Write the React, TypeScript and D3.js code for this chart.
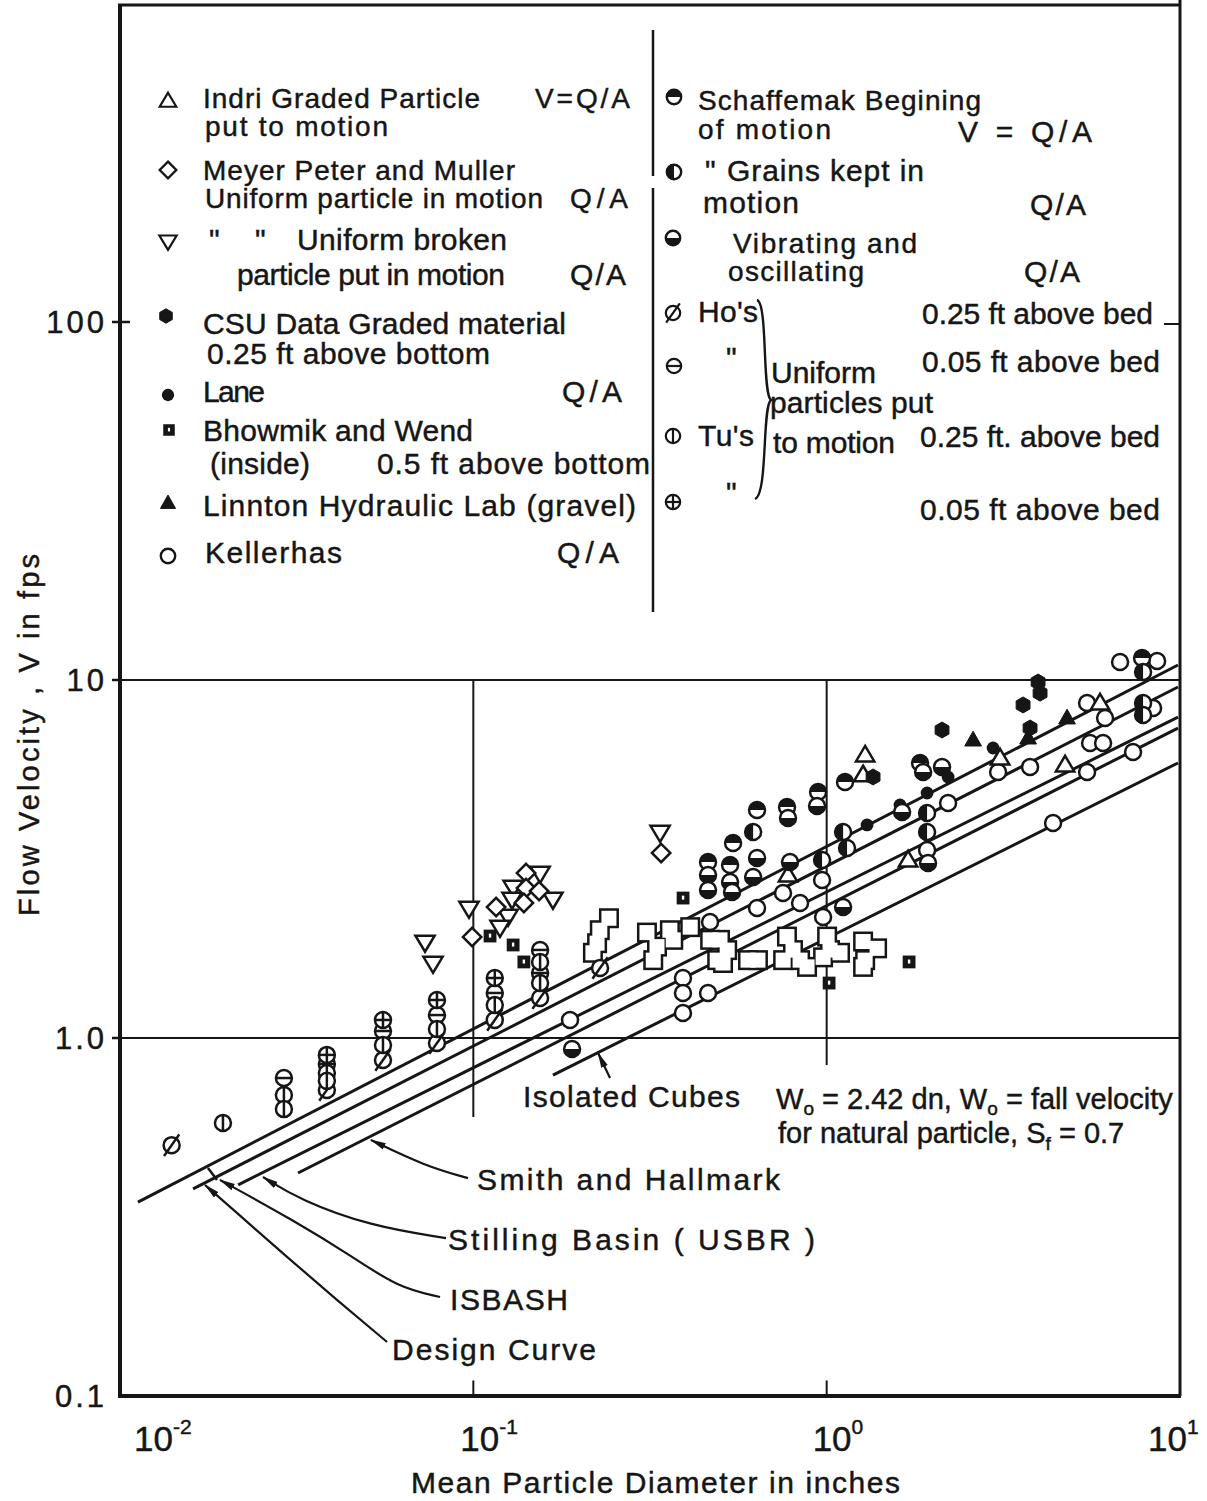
import React from 'react';
import * as d3 from 'd3';

// ---------- axis ticks ----------
const xTicks = [0.01, 0.1, 1, 10];
const xTickExp = ['-2', '-1', '0', '1'];
const yTicks = [0.1, 1, 10, 100];
const yTickLabels = ['0.1', '1.0', '10', '100'];

// ---------- curves (d in inches, V in fps) ----------
const isbashLine = [[0.01124, 0.348], [9.87, 11.01]];
const designLine = [[0.0161, 0.379], [9.87, 9.56]];
const stillingLine = [[0.0216, 0.389], [9.87, 7.88]];
const smithLine = [[0.0319, 0.4196], [9.87, 7.34]];
const cubesLine = [[0.168, 0.788], [9.87, 5.864]];

// ---------- annotation arrows ----------
const smithArrow = [[0.0966, 0.406], [0.073, 0.439], [0.0513, 0.519]];
const stillingArrow = [[0.0837, 0.276], [0.051, 0.2985], [0.0323, 0.353], [0.0254, 0.409]];
const isbashArrow = [[0.0805, 0.189], [0.0608, 0.2016], [0.0457, 0.2444], [0.0309, 0.31], [0.01919, 0.4013]];
const designArrow = [[0.057, 0.1415], [0.0411, 0.1854], [0.0297, 0.2444], [0.02144, 0.3245], [0.0174, 0.3886]];
const cubesArrow = [[0.2437, 0.773], [0.2254, 0.908]];
const isbashTick = [[0.01774, 0.4335], [0.01882, 0.4013]];

// ---------- data series ----------
const ho25 = [[0.014, 0.502], [0.0385, 0.716], [0.0555, 0.868], [0.0789, 0.968], [0.115, 1.123], [0.1545, 1.293], [0.2284, 1.569]];
const ho05 = [[0.0291, 0.773], [0.0385, 0.846], [0.0555, 1.046], [0.0789, 1.159], [0.115, 1.336], [0.1545, 1.762], [0.1545, 1.519]];
const tu25 = [[0.01956, 0.579], [0.0291, 0.693], [0.0291, 0.633], [0.0385, 0.798], [0.0385, 0.759], [0.0555, 0.956], [0.0789, 1.06], [0.115, 1.236], [0.1545, 1.631], [0.1545, 1.424]];
const tu05 = [[0.0385, 0.897], [0.0555, 1.123], [0.0789, 1.277], [0.115, 1.471]];
const meyer = [[0.0992, 1.915], [0.116, 2.322], [0.141, 2.889], [0.141, 2.624], [0.139, 2.384], [0.1535, 2.574], [0.34, 3.287]];
const meyerBroken = [[0.073, 1.843], [0.0769, 1.609], [0.0972, 2.292], [0.1296, 2.624], [0.1287, 2.43], [0.1254, 2.178], [0.119, 2.029], [0.1545, 2.871], [0.168, 2.43], [0.3377, 3.737]];
const bhowmik = [[0.1115, 1.927], [0.1296, 1.819], [0.139, 1.631], [0.3923, 2.46], [1.016, 1.424], [1.711, 1.631]];
const bhowmikClustered = [
  [0.242, 2.16], [0.228, 2.0], [0.224, 1.84], [0.218, 1.73],
  [0.31, 1.97], [0.331, 1.8], [0.323, 1.65], [0.36, 2.0], [0.368, 1.88], [0.411, 2.04],
  [0.468, 1.88], [0.499, 1.88], [0.49, 1.65], [0.509, 1.62], [0.523, 1.76],
  [0.599, 1.65], [0.639, 1.65],
  [0.772, 1.92], [0.803, 1.76], [0.841, 1.65], [0.88, 1.58], [0.753, 1.65],
  [1.003, 1.92], [1.022, 1.76], [1.091, 1.73], [0.977, 1.68],
  [1.268, 1.86], [1.285, 1.65], [1.389, 1.78], [1.268, 1.58],
];
const kellerhas = [[0.1878, 1.123], [0.392, 1.471], [0.392, 1.336], [0.392, 1.174], [0.4616, 1.336], [0.4677, 2.109], [0.6353, 2.307], [0.7525, 2.541], [0.8408, 2.384], [0.9705, 2.763], [0.977, 2.178], [6.767, 11.23], [8.614, 11.3], [5.458, 8.626], [6.137, 7.834], [8.392, 8.355], [5.566, 6.668], [6.058, 6.668], [7.364, 6.294], [5.458, 5.534], [4.373, 3.987], [3.764, 5.715], [3.056, 5.534], [2.206, 4.533], [1.924, 3.35]];
const indri = [[1.285, 6.17], [1.268, 5.43], [3.096, 6.055], [4.729, 5.789], [5.94, 8.626], [1.7, 3.142], [0.7773, 2.853]];
const linnton = [[2.597, 6.799], [4.79, 7.834], [3.716, 6.887]];
const csu = [[3.966, 9.87], [4.018, 9.19], [3.596, 8.517], [2.121, 7.249], [3.764, 7.342], [1.353, 5.36]];
const lane = [[1.301, 3.936], [1.924, 4.835], [2.958, 6.458], [1.613, 4.476], [2.206, 5.36]];
const schaffBegin = [[0.6353, 4.334], [0.7724, 4.419], [0.9456, 4.866], [1.127, 5.189], [0.5434, 3.505], [0.4616, 3.102], [0.5329, 3.043], [1.838, 5.864], [7.81, 11.52]];
const schaffKept = [[0.6193, 3.762], [0.9705, 3.142], [1.924, 4.251], [1.924, 3.762], [1.113, 3.762], [7.862, 10.53], [7.862, 8.626], [7.862, 7.98], [1.142, 3.393]];
const schaffVib = [[0.4616, 2.853], [0.4616, 2.591], [0.5329, 2.728], [0.5398, 2.558], [0.7773, 4.118], [0.9393, 4.446], [0.6353, 3.183], [0.6193, 2.817], [0.7876, 3.102], [1.936, 3.082], [1.875, 5.534], [0.1903, 0.932], [1.635, 4.278], [2.121, 5.715], [1.113, 2.322]];

const INK = '#161616';
const FONT = "'Liberation Sans', Arial, sans-serif";

function Marker({ t, cx, cy, r, sw }: any) {
  const c = { stroke: INK, strokeWidth: sw };
  switch (t) {
    case 'indri':
      return <path d={`M${cx},${cy - r * 1.15}L${cx + r * 1.15},${cy + r * 0.8}L${cx - r * 1.15},${cy + r * 0.8}Z`} fill="#fff" {...c} />;
    case 'broken':
      return <path d={`M${cx},${cy + r * 1.1}L${cx + r * 1.2},${cy - r * 0.9}L${cx - r * 1.2},${cy - r * 0.9}Z`} fill="#fff" {...c} />;
    case 'meyer':
      return <path d={`M${cx},${cy - r * 1.15}L${cx + r * 1.15},${cy}L${cx},${cy + r * 1.15}L${cx - r * 1.15},${cy}Z`} fill="#fff" {...c} />;
    case 'csu': {
      const pts = d3.range(6).map(k => {
        const a = (Math.PI / 3) * k - Math.PI / 2;
        return `${cx + r * Math.cos(a)},${cy + r * Math.sin(a)}`;
      });
      return <polygon points={pts.join(' ')} fill={INK} stroke={INK} strokeWidth={1} />;
    }
    case 'lane':
      return <circle cx={cx} cy={cy} r={r * 0.8} fill={INK} />;
    case 'bhowmik':
      return (
        <g>
          <rect x={cx - r * 0.8} y={cy - r * 0.8} width={r * 1.6} height={r * 1.6} fill={INK} />
          <rect x={cx - r * 0.15} y={cy - r * 0.3} width={r * 0.3} height={r * 0.5} fill="#fff" />
        </g>
      );
    case 'linnton':
      return <path d={`M${cx},${cy - r * 1.1}L${cx + r * 1.05},${cy + r * 0.75}L${cx - r * 1.05},${cy + r * 0.75}Z`} fill={INK} stroke={INK} strokeWidth={1} />;
    case 'kellerhas':
      return <circle cx={cx} cy={cy} r={r} fill="#fff" {...c} />;
    case 'schaffBegin':
      return (
        <g>
          <circle cx={cx} cy={cy} r={r} fill="#fff" {...c} />
          <path d={`M${cx - r},${cy}A${r},${r} 0 0 1 ${cx + r},${cy}Z`} fill={INK} />
        </g>
      );
    case 'schaffKept':
      return (
        <g>
          <circle cx={cx} cy={cy} r={r} fill="#fff" {...c} />
          <path d={`M${cx},${cy - r}A${r},${r} 0 0 0 ${cx},${cy + r}Z`} fill={INK} />
        </g>
      );
    case 'schaffVib':
      return (
        <g>
          <circle cx={cx} cy={cy} r={r} fill="#fff" {...c} />
          <path d={`M${cx - r},${cy}A${r},${r} 0 0 0 ${cx + r},${cy}Z`} fill={INK} />
        </g>
      );
    case 'ho25':
      return (
        <g>
          <circle cx={cx} cy={cy} r={r} fill="#fff" {...c} />
          <line x1={cx - r * 0.95} y1={cy + r * 1.35} x2={cx + r * 0.95} y2={cy - r * 1.35} {...c} />
        </g>
      );
    case 'ho05':
      return (
        <g>
          <circle cx={cx} cy={cy} r={r} fill="#fff" {...c} />
          <line x1={cx - r} y1={cy} x2={cx + r} y2={cy} {...c} />
        </g>
      );
    case 'tu25':
      return (
        <g>
          <circle cx={cx} cy={cy} r={r} fill="#fff" {...c} />
          <line x1={cx} y1={cy - r} x2={cx} y2={cy + r} {...c} />
        </g>
      );
    case 'tu05':
      return (
        <g>
          <circle cx={cx} cy={cy} r={r} fill="#fff" {...c} />
          <line x1={cx - r} y1={cy} x2={cx + r} y2={cy} {...c} />
          <line x1={cx} y1={cy - r} x2={cx} y2={cy + r} {...c} />
        </g>
      );
    default:
      return null;
  }
}

function T({ x, y, w, s = 30, children, anchor }: any) {
  return (
    <text x={x} y={y} fontSize={s} textLength={w} lengthAdjust="spacing" textAnchor={anchor || 'start'} stroke={INK} strokeWidth={0.45}>
      {children}
    </text>
  );
}

export default function App() {
  const x = d3.scaleLog().domain([0.01, 10]).range([120, 1180]);
  const y = d3.scaleLog().domain([0.1, 100]).range([1396, 322]);
  const ln = d3.line<any>().x((p: any) => x(p[0])).y((p: any) => y(p[1]));
  const cv = d3.line<any>().x((p: any) => x(p[0])).y((p: any) => y(p[1])).curve(d3.curveBasis);

  const series: [string, number[][]][] = [
    ['ho25', ho25], ['ho05', ho05], ['tu25', tu25], ['tu05', tu05],
    ['meyerBroken', meyerBroken], ['meyer', meyer], ['bhowmik', bhowmik],
    ['kellerhas', kellerhas], ['indri', indri], ['linnton', linnton], ['csu', csu], ['lane', lane],
    ['schaffBegin', schaffBegin], ['schaffKept', schaffKept], ['schaffVib', schaffVib],
  ];
  const typeMap: any = { meyerBroken: 'broken' };

  const top = 5;
  const left = x(0.01), right = x(10), bottom = y(0.1);
  const cs = 15;
  const LR = 7.2;

  return (
    <svg width={1207} height={1501} style={{ position: 'absolute', left: 0, top: 0, background: '#fff' }} fontFamily={FONT} fill={INK}>
      <defs>
        <marker id="ah" viewBox="0 0 16 8" refX="15" refY="4" markerWidth="16" markerHeight="8" markerUnits="userSpaceOnUse" orient="auto">
          <path d="M0,0.5 L16,4 L0,7.5 Z" fill={INK} />
        </marker>
      </defs>
      <rect x={0} y={0} width={1207} height={1501} fill="#fff" />

      {/* grid lines */}
      {[1, 10].map(v => (
        <line key={v} x1={left} x2={right} y1={y(v)} y2={y(v)} stroke={INK} strokeWidth={2} />
      ))}
      <line x1={x(0.1)} x2={x(0.1)} y1={y(10)} y2={y(0.602)} stroke={INK} strokeWidth={2} />
      <line x1={x(1)} x2={x(1)} y1={y(10)} y2={y(0.841)} stroke={INK} strokeWidth={2} />
      {[0.1, 1].map(v => (
        <line key={'bt' + v} x1={x(v)} x2={x(v)} y1={bottom} y2={y(0.1105)} stroke={INK} strokeWidth={2} />
      ))}
      {[1, 10, 100].map(v => (
        <line key={'lt' + v} x1={left - 8} x2={left + (v === 100 ? 10 : 0)} y1={y(v)} y2={y(v)} stroke={INK} strokeWidth={2.5} />
      ))}
      <line x1={right - 16} x2={right} y1={y(100) + 2} y2={y(100) + 2} stroke={INK} strokeWidth={2} />

      {/* frame */}
      <line x1={left} x2={left} y1={top} y2={bottom} stroke={INK} strokeWidth={4} />
      <line x1={left - 2} x2={right + 1} y1={bottom} y2={bottom} stroke={INK} strokeWidth={4} />
      <line x1={left - 2} x2={right + 1} y1={top} y2={top} stroke={INK} strokeWidth={3} />
      <line x1={right} x2={right} y1={0} y2={bottom} stroke={INK} strokeWidth={3} />

      {/* legend divider */}
      <line x1={653} x2={653} y1={30} y2={176} stroke={INK} strokeWidth={2.5} />
      <line x1={653} x2={653} y1={188} y2={612} stroke={INK} strokeWidth={2.5} />

      {/* curves */}
      {[isbashLine, designLine, stillingLine, smithLine, cubesLine].map((l, i) => (
        <path key={'c' + i} d={ln(l) || ''} fill="none" stroke={INK} strokeWidth={3} />
      ))}

      {/* annotation arrows */}
      {[smithArrow, stillingArrow, isbashArrow, designArrow, cubesArrow].map((a, i) => (
        <path key={'a' + i} d={cv(a) || ''} fill="none" stroke={INK} strokeWidth={2.2} markerEnd="url(#ah)" />
      ))}
      <path d={ln(isbashTick) || ''} stroke={INK} strokeWidth={2.5} fill="none" />

      {/* Bhowmik clustered data (overlapping squares drawn as one outline) */}
      <g>
        {bhowmikClustered.map((p, i) => (
          <rect key={'bo' + i} x={x(p[0]) - cs / 2} y={y(p[1]) - cs / 2} width={cs} height={cs} fill={INK} stroke={INK} strokeWidth={5} />
        ))}
        {bhowmikClustered.map((p, i) => (
          <rect key={'bf' + i} x={x(p[0]) - cs / 2} y={y(p[1]) - cs / 2} width={cs} height={cs} fill="#fff" />
        ))}
      </g>

      {/* data markers */}
      {series.map(([name, pts]) => (
        <g key={name}>
          {pts.map((p, i) => (
            <Marker key={i} t={typeMap[name] || name} cx={x(p[0])} cy={y(p[1])} r={8} sw={2.5} />
          ))}
        </g>
      ))}

      {/* ---------- legend, left column ---------- */}
      <Marker t="indri" cx={168} cy={101} r={LR} sw={2.2} />
      <T x={203} y={108} w={277} s={28}>Indri Graded Particle</T>
      <T x={535} y={108} w={95} s={28}>V=Q/A</T>
      <T x={205} y={136} w={183} s={28}>put to motion</T>

      <Marker t="meyer" cx={168} cy={170} r={LR} sw={2.4} />
      <T x={203} y={180} w={312} s={28}>Meyer Peter and Muller</T>
      <T x={205} y={208} w={338} s={28}>Uniform particle in motion</T>
      <T x={570} y={208} w={58} s={28}>Q/A</T>

      <Marker t="broken" cx={168} cy={242} r={LR} sw={2.2} />
      <T x={209} y={250} w={8}>"</T>
      <T x={255} y={250} w={8}>"</T>
      <T x={297} y={250} w={210}>Uniform broken</T>
      <T x={237} y={285} w={268}>particle put in motion</T>
      <T x={570} y={285} w={56}>Q/A</T>

      <Marker t="csu" cx={166} cy={316} r={LR} sw={2} />
      <T x={203} y={334} w={363}>CSU Data Graded material</T>
      <T x={207} y={364} w={283}>0.25 ft above bottom</T>

      <Marker t="lane" cx={168} cy={395} r={LR + 0.5} sw={2} />
      <T x={203} y={402} w={62}>Lane</T>
      <T x={562} y={402} w={60}>Q/A</T>

      <Marker t="bhowmik" cx={169} cy={430} r={LR} sw={2} />
      <T x={203} y={441} w={270}>Bhowmik and Wend</T>
      <T x={210} y={474} w={100}>(inside)</T>
      <T x={377} y={474} w={273}>0.5 ft above bottom</T>

      <Marker t="linnton" cx={168} cy={503} r={LR} sw={2} />
      <T x={203} y={516} w={433}>Linnton Hydraulic Lab (gravel)</T>

      <Marker t="kellerhas" cx={168} cy={556} r={LR} sw={2.4} />
      <T x={205} y={563} w={137}>Kellerhas</T>
      <T x={557} y={563} w={62}>Q/A</T>

      {/* ---------- legend, right column ---------- */}
      <Marker t="schaffBegin" cx={674} cy={97} r={LR} sw={2.4} />
      <T x={698} y={110} w={283} s={28}>Schaffemak Begining</T>
      <T x={698} y={139} w={133} s={28}>of motion</T>
      <T x={958} y={142} w={134}>V = Q/A</T>

      <Marker t="schaffKept" cx={674} cy={172} r={LR} sw={2.4} />
      <T x={705} y={181} w={8}>"</T>
      <T x={727} y={181} w={197}>Grains kept in</T>
      <T x={703} y={213} w={96}>motion</T>
      <T x={1030} y={215} w={56}>Q/A</T>

      <Marker t="schaffVib" cx={673} cy={238} r={LR} sw={2.4} />
      <T x={733} y={253} w={184} s={28}>Vibrating and</T>
      <T x={728} y={281} w={136} s={28}>oscillating</T>
      <T x={1024} y={282} w={56}>Q/A</T>

      <Marker t="ho25" cx={673} cy={313} r={LR} sw={2.2} />
      <T x={698} y={322} w={60}>Ho's</T>
      <T x={922} y={324} w={231}>0.25 ft above bed</T>

      <Marker t="ho05" cx={674} cy={366} r={LR} sw={2.2} />
      <T x={726} y={368} w={8}>"</T>
      <T x={922} y={372} w={238}>0.05 ft above bed</T>

      <Marker t="tu25" cx={673} cy={436} r={LR} sw={2.2} />
      <T x={698} y={446} w={56}>Tu's</T>
      <T x={920} y={447} w={240}>0.25 ft. above bed</T>

      <Marker t="tu05" cx={673} cy={502} r={LR} sw={2.2} />
      <T x={726} y={503} w={8}>"</T>
      <T x={920} y={520} w={240}>0.05 ft above bed</T>

      <path d="M757,300 C768,303 762,394 771,400 C762,406 768,494 755,499" fill="none" stroke={INK} strokeWidth={2.4} />
      <T x={771} y={383} w={105}>Uniform</T>
      <T x={770} y={413} w={163}>particles put</T>
      <T x={773} y={453} w={122}>to motion</T>

      {/* ---------- annotations ---------- */}
      <T x={523} y={1107} w={217}>Isolated Cubes</T>
      <text x={776} y={1109} fontSize={29} stroke={INK} strokeWidth={0.45}>
        <tspan>W</tspan><tspan fontSize={19} dy={6}>o</tspan><tspan dy={-6}> = 2.42 dn, W</tspan><tspan fontSize={19} dy={6}>o</tspan><tspan dy={-6}> = fall velocity</tspan>
      </text>
      <text x={778} y={1143} fontSize={29} stroke={INK} strokeWidth={0.45}>
        <tspan>for natural particle, S</tspan><tspan fontSize={19} dy={7}>f</tspan><tspan dy={-7}> = 0.7</tspan>
      </text>
      <T x={477} y={1190} w={303}>Smith and Hallmark</T>
      <T x={448} y={1250} w={367}>Stilling Basin ( USBR )</T>
      <T x={450} y={1310} w={118}>ISBASH</T>
      <T x={392} y={1360} w={204}>Design Curve</T>

      {/* ---------- axes labels ---------- */}
      {yTicks.map((v, i) => (
        <text key={'yl' + v} x={107} y={y(v) + 11} fontSize={31} textAnchor="end" letterSpacing={3} stroke={INK} strokeWidth={0.45}>
          {yTickLabels[i]}
        </text>
      ))}
      {xTicks.map((v, i) => {
        const off = [14, -13, -14, -32][i];
        return (
          <text key={'xl' + v} x={x(v) + off} y={1451} fontSize={35} stroke={INK} strokeWidth={0.45}>
            <tspan>10</tspan>
            <tspan fontSize={21} dy={-17}>{xTickExp[i]}</tspan>
          </text>
        );
      })}
      <T x={411} y={1493} w={489}>Mean Particle Diameter in inches</T>
      <text transform="translate(39,735) rotate(-90)" fontSize={29} textAnchor="middle" textLength={362} lengthAdjust="spacing" stroke={INK} strokeWidth={0.45}>
        Flow Velocity , V in fps
      </text>
    </svg>
  );
}
